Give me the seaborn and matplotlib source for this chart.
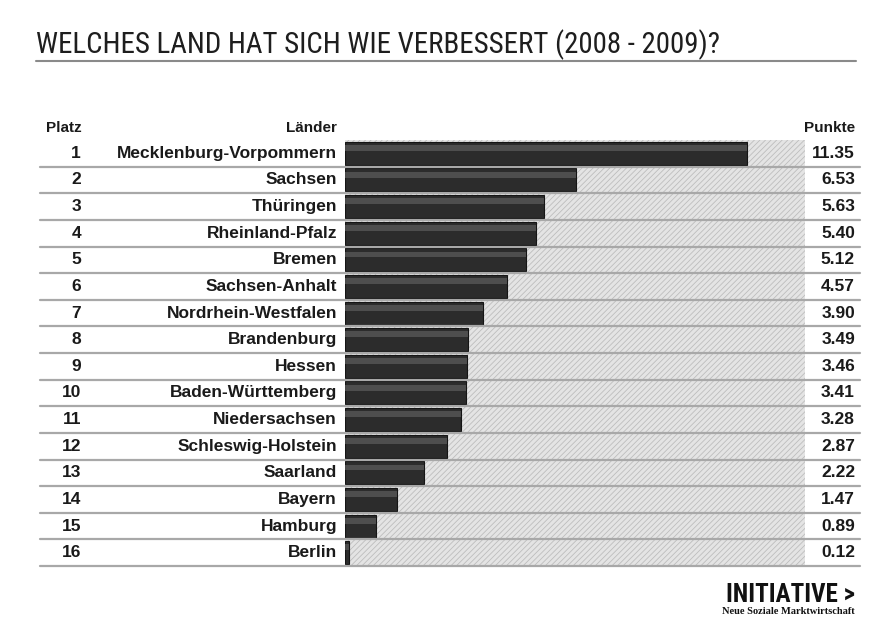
import matplotlib
matplotlib.use("Agg")
import matplotlib.pyplot as plt
import seaborn as sns
import pandas as pd
from matplotlib.patches import Rectangle
from matplotlib.lines import Line2D
from matplotlib import font_manager as fm

plaetze = list(range(1, 17))
laender = ["Mecklenburg-Vorpommern", "Sachsen", "Thüringen", "Rheinland-Pfalz", "Bremen",
           "Sachsen-Anhalt", "Nordrhein-Westfalen", "Brandenburg", "Hessen",
           "Baden-Württemberg", "Niedersachsen", "Schleswig-Holstein", "Saarland",
           "Bayern", "Hamburg", "Berlin"]
punkte = [11.35, 6.53, 5.63, 5.40, 5.12, 4.57, 3.90, 3.49, 3.46, 3.41, 3.28, 2.87, 2.22,
          1.47, 0.89, 0.12]
title = "WELCHES LAND HAT SICH WIE VERBESSERT (2008 - 2009)?"

df = pd.DataFrame({"Platz": plaetze, "Land": laender, "Punkte": punkte})

sns.set_theme(style="white")
plt.rcParams['font.family'] = ['Liberation Sans', 'DejaVu Sans']
plt.rcParams['hatch.linewidth'] = 0.6

names = {f.name for f in fm.fontManager.ttflist}
cond_fam = None
for cand in ["Liberation Sans Narrow", "Roboto Condensed", "Open Sans Condensed", "DejaVu Sans Condensed"]:
    if cand in names:
        cond_fam = cand
        break

W, H = 871, 628
fig = plt.figure(figsize=(W / 100, H / 100), dpi=100)
fig.patch.set_facecolor("white")

x0, x1 = 345, 805
y_top, y_bot = 140, 566
ax = fig.add_axes([x0 / W, 1 - y_bot / H, (x1 - x0) / W, (y_bot - y_top) / H])

bg = Rectangle((0, 0), 1, 1, transform=ax.transAxes, facecolor="#e4e4e4",
               edgecolor="#bdbdbd", hatch="//////", linewidth=0, zorder=0)
ax.add_patch(bg)

sns.barplot(data=df, y="Land", x="Punkte", order=laender, orient="h", ax=ax,
            color="#2c2c2c", width=0.86, edgecolor="#151515", linewidth=0.8,
            saturation=1, zorder=2)
n_first = len(ax.patches)
# highlight stripe for gradient look
sns.barplot(data=df, y="Land", x="Punkte", order=laender, orient="h", ax=ax,
            color="#5a5a5a", width=0.22, linewidth=0, saturation=1, zorder=3)
for p in ax.patches[n_first:]:
    p.set_y(p.get_y() - 0.2)
    p.set_alpha(0.75)

ax.set_xlim(0, 13.0)
ax.set_ylim(len(laender) - 0.5, -0.5)
ax.set_xlabel("")
ax.set_ylabel("")
ax.set_xticks([])
ax.set_yticks([])
for s in ax.spines.values():
    s.set_visible(False)

# row separators
lx0 = (40 - x0) / (x1 - x0)
lx1 = (860 - x0) / (x1 - x0)
for i in range(len(laender)):
    ax.add_line(Line2D([lx0, lx1], [i + 0.5, i + 0.5], transform=ax.get_yaxis_transform(),
                       color="#a8a8a8", linewidth=1.6, clip_on=False, zorder=4))

# text columns
tx_platz = (81 - x0) / (x1 - x0)
tx_land = (337 - x0) / (x1 - x0)
tx_val = (855 - x0) / (x1 - x0)
tr = ax.get_yaxis_transform()
fs = 12.5
for i, (pl, la, pu) in enumerate(zip(plaetze, laender, punkte)):
    ax.text(tx_platz, i, str(pl), transform=tr, ha="right", va="center",
            fontsize=fs, fontweight="bold", color="#1a1a1a")
    ax.text(tx_land, i, la, transform=tr, ha="right", va="center",
            fontsize=fs, fontweight="bold", color="#1a1a1a")
    ax.text(tx_val, i, f"{pu:.2f}", transform=tr, ha="right", va="center",
            fontsize=fs, fontweight="bold", color="#1a1a1a")

hy = 1 - 128 / H
fig.text(82 / W, hy, "Platz", ha="right", va="center", fontsize=11, fontweight="bold", color="#1a1a1a")
fig.text(337 / W, hy, "Länder", ha="right", va="center", fontsize=11, fontweight="bold", color="#1a1a1a")
fig.text(855 / W, hy, "Punkte", ha="right", va="center", fontsize=11, fontweight="bold", color="#1a1a1a")

# title
if cond_fam:
    tfam = [cond_fam, "DejaVu Sans"]
    tsize = 21 if cond_fam == "Liberation Sans Narrow" else 20.8
else:
    tfam = ["Liberation Sans", "DejaVu Sans"]
    tsize = 17.2
fig.text(36 / W, 1 - 45 / H, title, ha="left", va="center", fontsize=tsize,
         family=tfam, color="#1e1e1e")
fig.add_artist(Line2D([36 / W, 856 / W], [1 - 61 / H, 1 - 61 / H], color="#8a8a8a", linewidth=1.5))

# logo
fig.text(855 / W, 1 - 595 / H, "INITIATIVE >", ha="right", va="center", fontsize=18,
         fontweight="heavy", family=(["Liberation Sans"] if not cond_fam else [cond_fam, "Liberation Sans"]),
         color="#111111")
fig.text(855 / W, 1 - 612 / H, "Neue Soziale Marktwirtschaft", ha="right", va="center", fontsize=7.5,
         fontweight="bold", family=["Liberation Serif", "DejaVu Serif"], color="#111111")

fig.savefig("out.png", dpi=100, facecolor="white")
